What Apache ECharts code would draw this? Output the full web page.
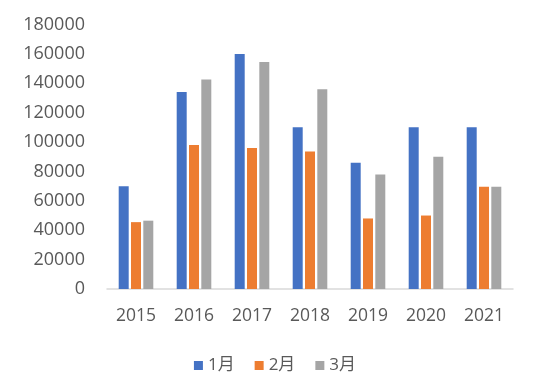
<!DOCTYPE html>
<html>
<head>
<meta charset="utf-8">
<script src="https://cdn.jsdelivr.net/npm/echarts@6/dist/echarts.min.js"></script>
<style>html,body{margin:0;padding:0;background:#fff;}#c{width:550px;height:391px;}</style>
</head>
<body>
<div id="c"></div>
<script>
var categories = ['2015','2016','2017','2018','2019','2020','2021'];
var seriesNames = ['1月','2月','3月'];
var jan = [70000,134000,160000,110000,86000,110000,110000];
var feb = [45500,98000,96000,93500,48000,50000,69500];
var mar = [46500,142500,154500,136000,78000,90000,69500];
var colors = ['#4472C4','#ED7D31','#A5A5A5'];
var font = '"Open Sans", "Noto Sans CJK SC", sans-serif';
var chart = echarts.init(document.getElementById('c'));
var data = [jan, feb, mar];
chart.setOption({
  animation: false,
  color: colors,
  grid: {left: 107, right: 37, top: 24.5, bottom: 102, containLabel: false},
  legend: {
    data: seriesNames,
    bottom: 12,
    left: 'center',
    icon: 'rect',
    itemWidth: 9,
    itemHeight: 9,
    itemGap: 20,
    textStyle: {color: '#595959', fontSize: 17, fontFamily: font}
  },
  xAxis: {
    type: 'category',
    data: categories,
    axisLine: {lineStyle: {color: '#D9D9D9', width: 1.5}},
    axisTick: {show: false},
    axisLabel: {color: '#595959', fontSize: 17.5, fontFamily: font, margin: 18}
  },
  yAxis: {
    type: 'value',
    min: 0, max: 180000, interval: 20000,
    splitLine: {show: false},
    axisLine: {show: false},
    axisTick: {show: false},
    axisLabel: {color: '#595959', fontSize: 18, fontFamily: font, margin: 22,
      formatter: function(v){ return String(v); }}
  },
  series: seriesNames.map(function(n, i){
    return {name: n, type: 'bar', data: data[i], barWidth: 10, barGap: '23%'};
  })
});
</script>
</body>
</html>
